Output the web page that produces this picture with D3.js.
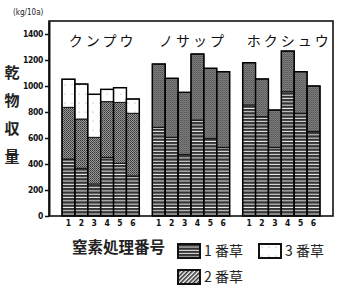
<!DOCTYPE html>
<html><head><meta charset="utf-8">
<script src="https://cdn.jsdelivr.net/npm/d3@7"></script>
<style>body{margin:0;background:#fff}svg{display:block}</style>
</head><body>
<svg id="c" width="337" height="289"></svg>
<script>
const groups = ["クンプウ", "ノサップ", "ホクシュウ"];
const treatments = ["1", "2", "3", "4", "5", "6"];
// dry matter yield per cut (kg/10a), one row per cultivar
const cut1 = [[438, 367, 246, 451, 405, 308], [682, 605, 474, 738, 597, 528], [854, 764, 528, 956, 790, 651]];
const cut2 = [[398, 379, 359, 429, 469, 482], [487, 454, 477, 508, 539, 582], [325, 290, 287, 313, 320, 349]];
const cut3 = [[216, 269, 331, 94, 113, 110], [0, 0, 0, 0, 0, 0], [0, 0, 0, 0, 0, 0]];
const yTicks = [0, 200, 400, 600, 800, 1000, 1200, 1400];
const cutNames = ["1 番草", "2 番草", "3 番草"];

const svg = d3.select("#c");
const defs = svg.append("defs");
// 1番草: dark with white horizontal lines
const p1 = defs.append("pattern").attr("id", "p1").attr("patternUnits", "userSpaceOnUse").attr("width", 4).attr("height", 3.3);
p1.append("rect").attr("width", 4).attr("height", 3.3).attr("fill", "#333");
p1.append("rect").attr("y", 2.3).attr("width", 4).attr("height", 1).attr("fill", "#ececec");
// 2番草: stippled gray
const p2 = defs.append("pattern").attr("id", "p2").attr("patternUnits", "userSpaceOnUse").attr("width", 2).attr("height", 2);
p2.append("rect").attr("width", 2).attr("height", 2).attr("fill", "#999");
p2.append("rect").attr("width", 1).attr("height", 1).attr("fill", "#333");
p2.append("rect").attr("x", 1).attr("y", 1).attr("width", 1).attr("height", 1).attr("fill", "#505050");
// 2番草 legend: diagonal hatch
const p2l = defs.append("pattern").attr("id", "p2l").attr("patternUnits", "userSpaceOnUse").attr("width", 3).attr("height", 3).attr("patternTransform", "rotate(45)");
p2l.append("rect").attr("width", 3).attr("height", 3).attr("fill", "#fff");
p2l.append("rect").attr("width", 1.6).attr("height", 3).attr("fill", "#333");
// 3番草: white with sparse dots
const p3 = defs.append("pattern").attr("id", "p3").attr("patternUnits", "userSpaceOnUse").attr("width", 7).attr("height", 9);
p3.append("rect").attr("width", 7).attr("height", 9).attr("fill", "#fff");
p3.append("circle").attr("cx", 3).attr("cy", 4).attr("r", 0.6).attr("fill", "#999");
const fills = ["url(#p1)", "url(#p2)", "url(#p3)"];

const L = 49, R = 333, T = 21, B = 216;
const y = d3.scaleLinear().domain([0, 1500]).range([B, T]);
const x0 = d3.scaleBand().domain(groups).range([L, R]).paddingInner(0.144).paddingOuter(0.144);
const x1 = d3.scaleBand().domain(treatments).range([0, x0.bandwidth()]).padding(0);

// bars
groups.forEach((g, gi) => {
  const gg = svg.append("g").attr("transform", `translate(${x0(g)},0)`);
  treatments.forEach((t, ti) => {
    const vals = [cut1[gi][ti], cut2[gi][ti], cut3[gi][ti]];
    let base = 0;
    vals.forEach((v, ci) => {
      if (v <= 0) return;
      gg.append("rect")
        .attr("x", x1(t)).attr("width", x1.bandwidth())
        .attr("y", y(base + v)).attr("height", y(base) - y(base + v))
        .attr("fill", fills[ci]).attr("stroke", "#111").attr("stroke-width", 1);
      base += v;
    });
    gg.append("rect")
      .attr("x", x1(t)).attr("width", x1.bandwidth())
      .attr("y", y(base)).attr("height", y(0) - y(base))
      .attr("fill", "none").attr("stroke", "#000").attr("stroke-width", 1.4);
    gg.append("text").attr("x", x1(t) + x1.bandwidth() / 2).attr("y", 226)
      .attr("text-anchor", "middle").attr("font-family", "DejaVu Sans Condensed")
      .attr("font-weight", "bold").attr("font-size", 8.5).attr("fill", "#111").text(t);
  });
  svg.append("text").attr("x", x0(g) + x0.bandwidth() / 2 + (gi === 2 ? 8 : 2)).attr("y", 46)
    .attr("text-anchor", "middle").attr("font-family", "Noto Sans CJK JP")
    .attr("font-size", 14).attr("letter-spacing", 3).attr("fill", "#111").text(g);
});

// frame
svg.append("rect").attr("x", L).attr("y", T).attr("width", R - L).attr("height", B - T)
  .attr("fill", "none").attr("stroke", "#111").attr("stroke-width", 1.6);

// y axis
const ax = svg.append("g").attr("transform", `translate(${L},0)`)
  .call(d3.axisLeft(y).tickValues(yTicks).tickFormat(d3.format("d")).tickSize(4).tickPadding(2).tickSizeOuter(0));
ax.select(".domain").attr("stroke", "#111").attr("stroke-width", 2);
ax.selectAll(".tick line").attr("stroke", "#111").attr("stroke-width", 1.5);
ax.selectAll("text").attr("font-family", "DejaVu Sans Condensed").attr("font-weight", "bold")
  .attr("font-size", 8.5).attr("letter-spacing", -0.3).attr("fill", "#111");

// unit
svg.append("text").attr("x", 13).attr("y", 15).attr("font-family", "DejaVu Sans Condensed")
  .attr("font-size", 8).attr("fill", "#222").text("(kg/10a)");

// y label vertical
["乾", "物", "収", "量"].forEach((ch, i) => {
  svg.append("text").attr("x", 12).attr("y", 78 + i * 28).attr("text-anchor", "middle")
    .attr("font-family", "Noto Sans CJK JP").attr("font-weight", "bold").attr("font-size", 15)
    .attr("fill", "#222").text(ch);
});

// x title
svg.append("text").attr("x", 72).attr("y", 253).attr("font-family", "Noto Sans CJK JP")
  .attr("font-weight", "bold").attr("font-size", 15.5).attr("fill", "#222").text("窒素処理番号");

// legend
const leg = [
  {i: 0, x: 178, y: 244},
  {i: 2, x: 259, y: 244},
  {i: 1, x: 178, y: 270}
];
leg.forEach(d => {
  svg.append("rect").attr("x", d.x).attr("y", d.y).attr("width", 22).attr("height", 14)
    .attr("fill", d.i === 1 ? "url(#p2l)" : fills[d.i]).attr("stroke", "#111").attr("stroke-width", 2);
  svg.append("text").attr("x", d.x + 26).attr("y", d.y + 12).attr("font-family", "Noto Sans CJK JP")
    .attr("font-size", 14).attr("fill", "#222").text(cutNames[d.i]);
});
</script>
</body></html>
